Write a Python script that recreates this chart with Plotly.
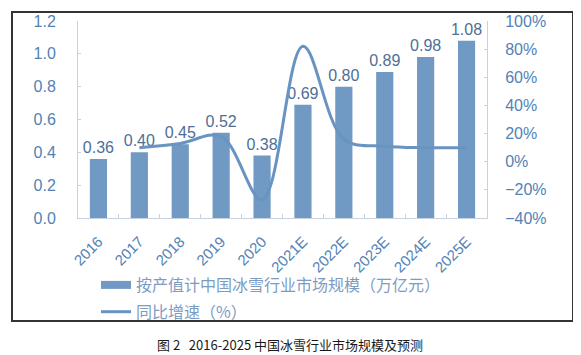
import plotly.graph_objects as go

years = ["2016", "2017", "2018", "2019", "2020", "2021E", "2022E", "2023E", "2024E", "2025E"]
market_size = [0.36, 0.40, 0.45, 0.52, 0.38, 0.69, 0.80, 0.89, 0.98, 1.08]
growth = [None, 0.10, 0.13, 0.18, -0.27, 0.82, 0.16, 0.11, 0.10, 0.10]
size_labels = ["0.36", "0.40", "0.45", "0.52", "0.38", "0.69", "0.80", "0.89", "0.98", "1.08"]

bar_name = "按产值计中国冰雪行业市场规模（万亿元）"
line_name = "同比增速（%）"
caption = "图 2   2016-2025 中国冰雪行业市场规模及预测"

BAR_C = "#7099c3"
LINE_C = "#6994c1"
TICK_C = "#5282b6"
LABEL_C = "#4e6f96"
LEG_C = "#7d9cc2"
AX_C = "#c8d2de"
FONT = "Liberation Sans, Arial, sans-serif"
CJK = "Noto Sans CJK SC, sans-serif"

# page body margin offset (screen px = figure px + O)
O = 8
W, H = 581 - O, 355 - O
# plot area in screen pixels
L, R, T, B = 78, 487, 21, 218
def px(x):
    return (x - L) / (R - L)
def py(y):
    return (B - y) / (B - T)

fig = go.Figure()
fig.add_trace(go.Bar(
    x=years, y=market_size, name=bar_name, marker=dict(color=BAR_C, line=dict(width=0)),
    text=size_labels, textposition="outside", cliponaxis=False, constraintext="none",
    textfont=dict(family=FONT, size=16, color=LABEL_C), showlegend=False,
))
fig.add_trace(go.Scatter(
    x=years, y=growth, yaxis="y2", mode="lines", name=line_name,
    line=dict(color=LINE_C, width=3, shape="spline", smoothing=1.0), showlegend=False,
))
# legend entries
fig.add_trace(go.Scatter(x=[None], y=[None], mode="lines", name=bar_name, legendgroup="a",
                         line=dict(color=BAR_C, width=8)))
fig.add_trace(go.Scatter(x=[None], y=[None], mode="lines", name=line_name, legendgroup="b",
                         line=dict(color=LINE_C, width=3)))

# frame edges (screen px)
FX0, FX1, FY0, FY1 = 12, 573, 12, 321
frame_line = dict(color="#333333", width=2)
frame = [
    dict(type="rect", xref="paper", yref="paper", x0=px(FX0), x1=px(FX1), y0=py(FY1), y1=py(FY0),
         line=frame_line, fillcolor="rgba(0,0,0,0)", layer="below"),
]

fig.update_layout(
    width=W, height=H, autosize=False,
    margin=dict(l=L - O, r=W - (R - O), t=T - O, b=H - (B - O), autoexpand=False),
    paper_bgcolor="white", plot_bgcolor="rgba(0,0,0,0)",
    bargap=0.58,
    font=dict(family=FONT, color=TICK_C),
    xaxis=dict(
        type="category", tickangle=-45, tickfont=dict(family=FONT, size=15, color=TICK_C),
        showline=True, linecolor=AX_C, linewidth=1, ticks="inside", tickson="boundaries",
        ticklen=4, tickcolor=AX_C, showgrid=False, zeroline=False, automargin=False,
        ticklabelstandoff=8,
    ),
    yaxis=dict(
        range=[0, 1.2], dtick=0.2, tickformat=".1f", tickfont=dict(family=FONT, size=16, color=TICK_C),
        showline=True, linecolor=AX_C, linewidth=1, ticks="inside", ticklen=3, tickcolor=AX_C,
        showgrid=False, zeroline=False, ticklabelstandoff=18, automargin=False,
    ),
    yaxis2=dict(
        range=[-0.4, 1.0], dtick=0.2, tickformat=".0%", overlaying="y", side="right",
        tickfont=dict(family=FONT, size=16, color=TICK_C),
        showline=True, linecolor=AX_C, linewidth=1, ticks="inside", ticklen=3, tickcolor=AX_C,
        showgrid=False, zeroline=False, ticklabelstandoff=14, automargin=False,
    ),
    legend=dict(
        orientation="v", x=px(96), y=py(268), xanchor="left", yanchor="top",
        font=dict(family=CJK, size=16, color=LEG_C), bgcolor="rgba(0,0,0,0)",
        itemwidth=30, tracegroupgap=3,
    ),
    shapes=frame,
    annotations=[dict(text=caption, xref="paper", yref="paper", x=px(290), y=py(344),
                      xanchor="center", yanchor="middle", showarrow=False,
                      font=dict(family=CJK, size=13, color="#1a1a1a"))],
)

fig.write_html("out.html")
